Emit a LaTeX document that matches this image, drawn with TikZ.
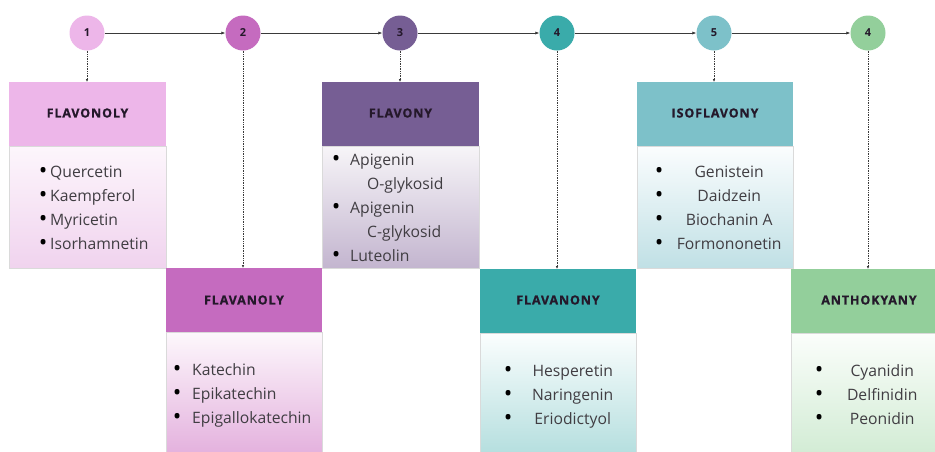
\documentclass[tikz,border=0pt]{standalone}
\usepackage{fontspec}
\setmainfont{Open Sans}
\newfontfamily\hdfont[LetterSpace=7,BoldFeatures={FakeBold=0.9}]{Open Sans}
\usetikzlibrary{arrows.meta}
\definecolor{darktext}{HTML}{24182A}
\definecolor{bodytext}{HTML}{403D42}
\definecolor{linecol}{HTML}{3A3A3A}
\definecolor{boxline}{HTML}{DADADA}
\definecolor{cA}{HTML}{EDB6E9}\definecolor{cAb}{HTML}{F0D3EE}\definecolor{cAt}{HTML}{FDF6FC}
\definecolor{cB}{HTML}{C56BBF}\definecolor{cBb}{HTML}{E4B2DE}\definecolor{cBt}{HTML}{FDF8FC}
\definecolor{cC}{HTML}{765E94}\definecolor{cCb}{HTML}{C3B5CF}\definecolor{cCt}{HTML}{F7F5F8}
\definecolor{cD}{HTML}{3AABAA}\definecolor{cDb}{HTML}{B6DFDF}\definecolor{cDt}{HTML}{FBFEFE}
\definecolor{cE}{HTML}{7DC1C9}\definecolor{cEb}{HTML}{C0E0E5}\definecolor{cEt}{HTML}{FBFDFE}
\definecolor{cF}{HTML}{93CF9B}\definecolor{cFb}{HTML}{D3ECD5}\definecolor{cFt}{HTML}{FBFEFB}
\newcommand\bl{\makebox[5pt][c]{\textcolor{black}{\raisebox{-1.9pt}{\scalebox{1.45}{\textbullet}}}}}
\newcommand\listfont{\fontsize{15.7}{24}\selectfont}
\tikzset{
  num/.style={circle, minimum size=35pt, inner sep=0pt, text=darktext,
    font=\fontsize{11}{13}\selectfont\bfseries},
  headbox/.style={rectangle, inner sep=0pt, text=darktext,
    font=\hdfont\fontsize{12.5}{15}\selectfont\bfseries},
  bodybox/.style={draw=boxline, line width=0.5pt, shading angle=45},
  flow/.style={-{Latex[length=4pt,width=3.2pt]}, line width=0.7pt, draw=linecol},
  drop/.style={-{Latex[length=3pt,width=2.6pt]}, densely dotted, line width=0.7pt, draw=linecol},
  listtxt/.style={anchor=base west, inner sep=0pt, text=bodytext, font=\listfont},
}
\begin{document}
\begin{tikzpicture}[x=1pt,y=-1pt]
\useasboundingbox (0,0) rectangle (935,451);
\clip (0,0) rectangle (935,451);
\fill[white] (0,0) rectangle (935,451);

% bodies
\shade[bodybox, top color=cAt, bottom color=cAb] (9,146) rectangle (166,268);
\shade[bodybox, top color=cBt, bottom color=cBb] (166,332) rectangle (322,452);
\shade[bodybox, top color=cCt, bottom color=cCb] (322,146) rectangle (479,268);
\shade[bodybox, top color=cDt, bottom color=cDb] (480,333) rectangle (636,452);
\shade[bodybox, top color=cEt, bottom color=cEb] (637,146) rectangle (793,268);
\shade[bodybox, top color=cFt, bottom color=cFb] (791,333) rectangle (946,452);

% headers
\path[fill=cA] (9,82) rectangle (166,146);
\path[fill=cB] (166,268) rectangle (322,332);
\path[fill=cC] (322,82) rectangle (479,146);
\path[fill=cD] (480,269) rectangle (636,333);
\path[fill=cE] (637,82) rectangle (793,146);
\path[fill=cF] (791,269) rectangle (946,333);
\node[headbox] (h1) at (87.5,113) {FLAVONOLY};
\node[headbox] (h2) at (244,300) {FLAVANOLY};
\node[headbox] (h3) at (400.5,113) {FLAVONY};
\node[headbox] (h4) at (558,300) {FLAVANONY};
\node[headbox] (h5) at (715,113) {ISOFLAVONY};
\node[headbox] (h6) at (869,300) {ANTHOKYANY};

% circles
\node[num, fill=cA] (c1) at (87,33) {1};
\node[num, fill=cB] (c2) at (243,33) {2};
\node[num, fill=cC] (c3) at (400,33) {3};
\node[num, fill=cD] (c4) at (557,33) {4};
\node[num, fill=cE] (c5) at (714,33) {5};
\node[num, fill=cF] (c6) at (868,33) {4};

\draw[flow] (c1) -- (c2);
\draw[flow] (c2) -- (c3);
\draw[flow] (c3) -- (c4);
\draw[flow] (c4) -- (c5);
\draw[flow] (c5) -- (c6);

\draw[drop] (c1.south) -- (c1.south |- 0,82);
\draw[drop] (c2.south) -- (c2.south |- 0,268);
\draw[drop] (c3.south) -- (c3.south |- 0,82);
\draw[drop] (c4.south) -- (c4.south |- 0,269);
\draw[drop] (c5.south) -- (c5.south |- 0,82);
\draw[drop] (c6.south) -- (c6.south |- 0,269);

% lists
\node[listtxt] (l1) at (40.5,177) {\begin{tabular}[t]{@{}l@{}}
\bl\hspace{4.5pt}Quercetin\\ \bl\hspace{4.5pt}Kaempferol\\ \bl\hspace{4.5pt}Myricetin\\ \bl\hspace{4.5pt}Isorhamnetin\end{tabular}};
\node[listtxt] (l2) at (174.5,375) {\begin{tabular}[t]{@{}l@{}}
\bl\hspace{12.5pt}Katechin\\ \bl\hspace{12.5pt}Epikatechin\\ \bl\hspace{12.5pt}Epigallokatechin\end{tabular}};
\node[listtxt] (l3) at (333.5,165) {\begin{tabular}[t]{@{}l@{}}
\bl\hspace{11.5pt}Apigenin\\ \hspace{33.5pt}O-glykosid\\ \bl\hspace{11.5pt}Apigenin\\ \hspace{33.5pt}C-glykosid\\ \bl\hspace{11.5pt}Luteolin\end{tabular}};
\node[listtxt] (l4) at (505.5,376) {\begin{tabular}[t]{@{}l@{}}
\bl\hspace{5pt}\makebox[114pt][c]{Hesperetin}\\ \bl\hspace{5pt}\makebox[114pt][c]{Naringenin}\\ \bl\hspace{5pt}\makebox[114pt][c]{Eriodictyol}\end{tabular}};
\node[listtxt] (l5) at (656.5,177) {\begin{tabular}[t]{@{}l@{}}
\bl\hspace{5pt}\makebox[125pt][c]{Genistein}\\ \bl\hspace{5pt}\makebox[125pt][c]{Daidzein}\\ \bl\hspace{5pt}\makebox[125pt][c]{Biochanin A}\\ \bl\hspace{5pt}\makebox[125pt][c]{Formononetin}\end{tabular}};
\node[listtxt] (l6) at (816.5,376) {\begin{tabular}[t]{@{}l@{}}
\bl\hspace{5pt}\makebox[111pt][c]{Cyanidin}\\ \bl\hspace{5pt}\makebox[111pt][c]{Delfinidin}\\ \bl\hspace{5pt}\makebox[111pt][c]{Peonidin}\end{tabular}};
\end{tikzpicture}
\end{document}
